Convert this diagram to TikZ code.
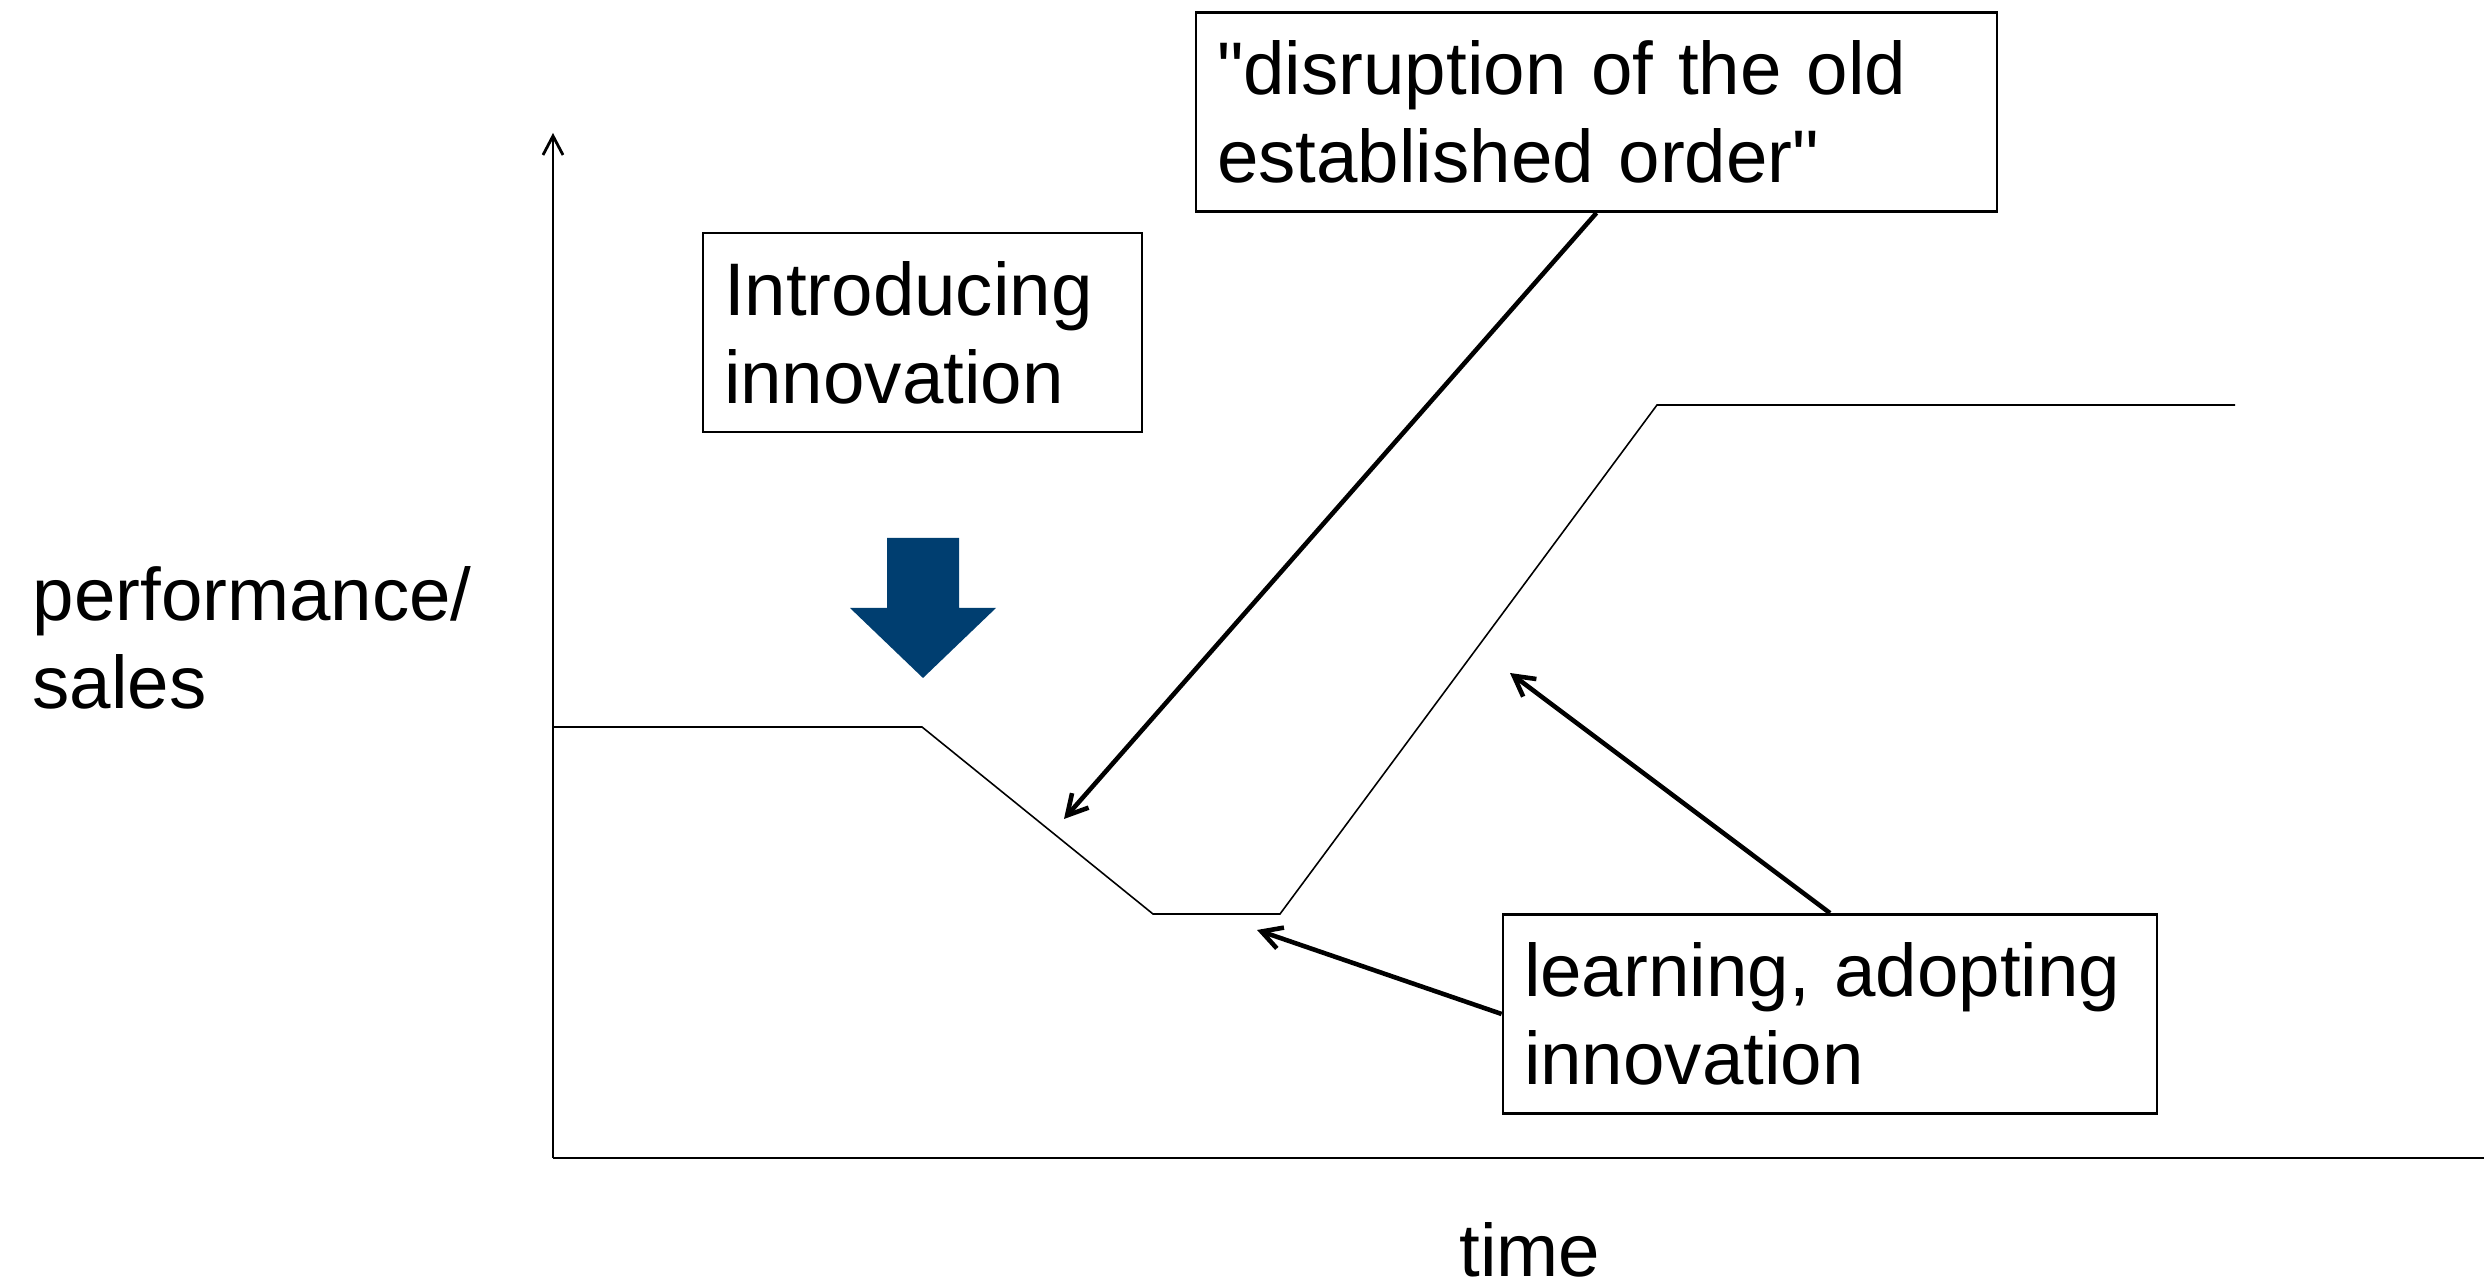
\documentclass[tikz,border=0pt]{standalone}
\usepackage{fontspec}
\setmainfont{Liberation Sans}
\usetikzlibrary{arrows.meta}
\definecolor{navy}{RGB}{0,62,112}
\tikzset{txtbox/.style={draw,line width=.8pt,align=left,inner xsep=.21cm,inner ysep=0pt,minimum height=1.99cm}}
\tikzset{ptr/.style={line width=1.3pt,-{Straight Barb[length=.2cm,width=.22cm]}},axis/.style={line width=.8pt}}
\tikzset{curve/.style={line width=.45pt}}

\begin{document}
\begin{tikzpicture}[font=\fontsize{21.2}{25}\selectfont]
      \useasboundingbox (0,0) rectangle (24.84,12.88);
      % axes
      \coordinate (o) at (5.53,1.30);
      \coordinate (ytop) at (5.53,11.55);
      \coordinate (xend) at (24.84,1.30);
      \draw[axis,-{Straight Barb[length=.19cm,width=.2cm]}] (o) -- (ytop);
      \draw[axis] (o) -- (xend);
      \node[anchor=north west,inner sep=0pt,align=left] (ylab) at (0.32,7.22) {performance/\\sales};
      \node[anchor=base,inner sep=0pt] (xlab) at (15.30,0.11) {time};
      % performance over time
      \coordinate (p1) at (5.53,5.61);
      \coordinate (p2) at (9.22,5.61);
      \coordinate (p3) at (11.53,3.74);
      \coordinate (p4) at (12.80,3.74);
      \coordinate (p5) at (16.57,8.83);
      \coordinate (p6) at (22.35,8.83);
      \draw[curve] (p1) -- (p2) -- (p3) -- (p4) -- (p5) -- (p6);
      % the moment of introduction
      \fill[navy] (8.87,7.50) -- (9.59,7.50) -- (9.59,6.80) -- (9.96,6.80)
        -- (9.23,6.10) -- (8.50,6.80) -- (8.87,6.80) -- cycle;
      % labels
      \node[txtbox,text width=3.97cm] (intro) at (9.225,9.555) {Introducing\\innovation};
      \node[txtbox,text width=7.59cm] (disrupt) at (15.965,11.76) {\textquotedbl disruption of the old\\established order\textquotedbl};
      \node[txtbox,text width=6.12cm] (learn) at (18.30,2.74) {learning, adopting\\innovation};
      \coordinate (dropT) at (10.64,4.69);
      \coordinate (riseT) at (15.10,6.15);
      \coordinate (lowT) at (12.57,3.58);
      \draw (disrupt.south) edge[ptr] (dropT)
      (learn.north) edge[ptr] (riseT)
      (learn.west) edge[ptr] (lowT);
    \end{tikzpicture}
\end{document}
